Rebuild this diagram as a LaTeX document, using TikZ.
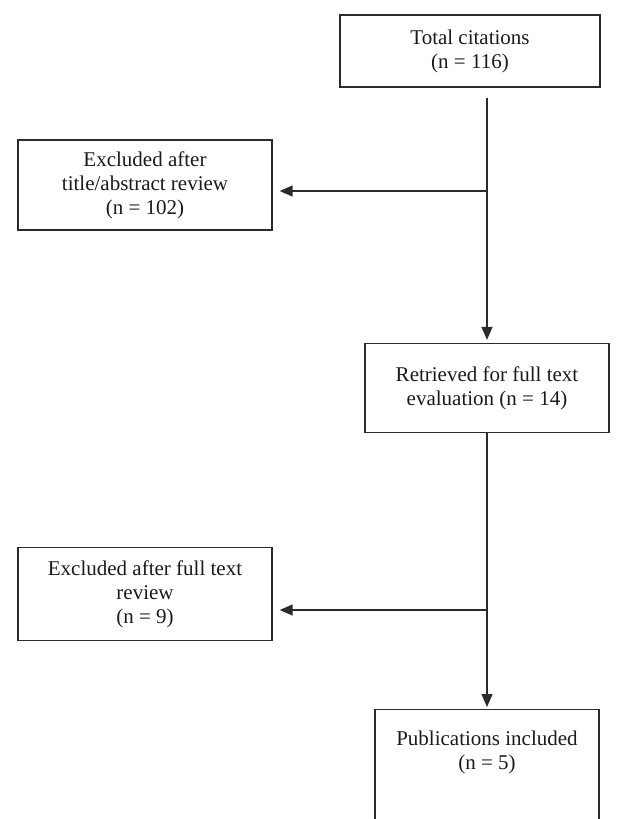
\documentclass[tikz,border=0pt]{standalone}
\usepackage{fontspec}
\setmainfont{Liberation Serif}
\usetikzlibrary{arrows.meta,positioning,calc}
\definecolor{LineDark}{HTML}{2B2B2B}
\definecolor{InkBlack}{HTML}{1A1A1A}

\begin{document}
\begin{tikzpicture}[
    x=1pt, y=-1pt,
    font=\fontsize{21}{24}\selectfont,
    box/.style={rectangle, draw=LineDark, line width=1.4pt, text=InkBlack, align=center, inner sep=0pt},
    arrow/.style={-{Triangle[length=13pt,width=11pt]}, line width=1.5pt, draw=LineDark}
]
\useasboundingbox (0,0) rectangle (624,819);
\clip (0,0) rectangle (624,819);

\node[box, minimum width=260pt, minimum height=72pt] (total) at (470,51) {Total citations\\(n = 116)};
\node[box, minimum width=254pt, minimum height=90pt] (exc1) at (145,185) {Excluded after\\title/abstract review\\(n = 102)};
\node[box, minimum width=244pt, minimum height=89pt] (ret) at (487,388) {Retrieved for full text\\evaluation (n = 14)};
\node[box, minimum width=254pt, minimum height=93pt] (exc2) at (145,594) {Excluded after full text\\review\\(n = 9)};
\node[box, anchor=north, minimum width=224pt, text height=60pt, text depth=150pt] (pub) at (487,709) {Publications included\\(n = 5)};

\coordinate (start) at ($(total.south -| ret.north)+(0,10)$);
\coordinate (fork1) at (487,191);
\coordinate (fork2) at (487,610);

\draw[arrow, shorten >=3pt] (start) -- (ret.north);
\draw[arrow, shorten >=7pt] (fork1) -- (fork1 -| exc1.east);
\draw[arrow, shorten >=2pt] (ret.south) -- (pub.north);
\draw[arrow, shorten >=7pt] (fork2) -- (fork2 -| exc2.east);
\end{tikzpicture}
\end{document}
